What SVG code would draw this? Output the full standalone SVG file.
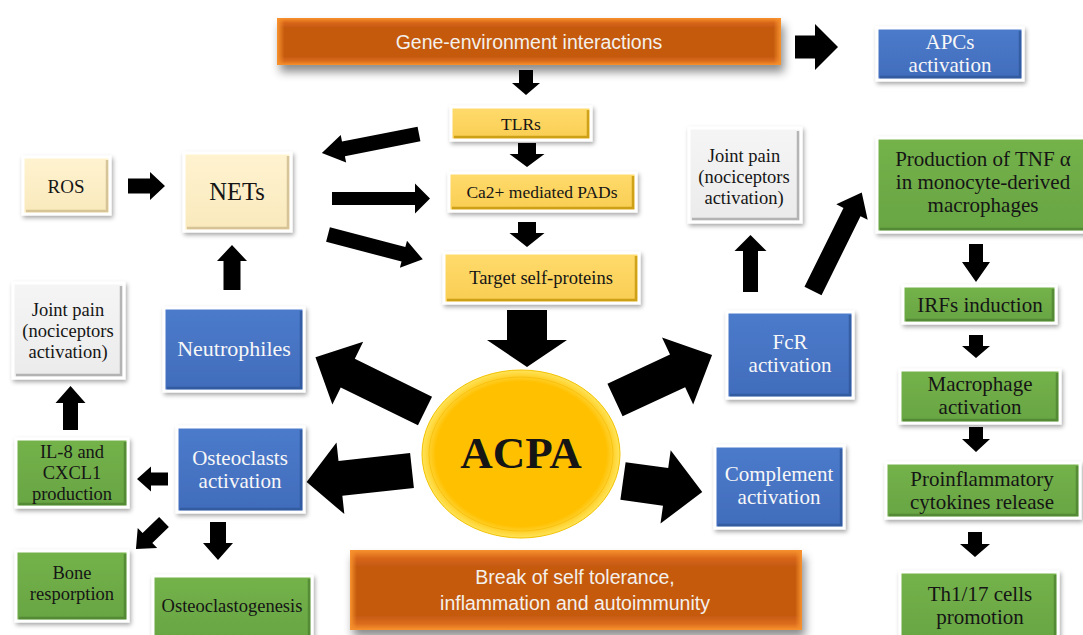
<svg xmlns="http://www.w3.org/2000/svg" width="1083" height="635" viewBox="0 0 1083 635">
<defs>
<filter id="sh" x="-20%" y="-20%" width="140%" height="150%"><feDropShadow dx="1.5" dy="2.5" stdDeviation="2.2" flood-color="#000" flood-opacity="0.35"/></filter>
<filter id="sho" x="-10%" y="-30%" width="120%" height="180%"><feDropShadow dx="3" dy="7" stdDeviation="5" flood-color="#000" flood-opacity="0.45"/></filter>
<linearGradient id="gB" x1="0" y1="0" x2="0" y2="1"><stop offset="0" stop-color="#4C7BCB"/><stop offset="1" stop-color="#416CBC"/></linearGradient>
<linearGradient id="gG" x1="0" y1="0" x2="0" y2="1"><stop offset="0" stop-color="#74B24A"/><stop offset="1" stop-color="#68A543"/></linearGradient>
<linearGradient id="gY" x1="0" y1="0" x2="0" y2="1"><stop offset="0" stop-color="#FFDB6C"/><stop offset="1" stop-color="#F9CD52"/></linearGradient>
<linearGradient id="gT" x1="0" y1="0" x2="0" y2="1"><stop offset="0" stop-color="#FFF3D0"/><stop offset="1" stop-color="#F9E9BC"/></linearGradient>
<linearGradient id="gW" x1="0" y1="0" x2="0" y2="1"><stop offset="0" stop-color="#F5F5F5"/><stop offset="1" stop-color="#EBEBEB"/></linearGradient>
<linearGradient id="gO" x1="0" y1="0" x2="0" y2="1"><stop offset="0" stop-color="#F7922E"/><stop offset="0.1" stop-color="#D9671A"/><stop offset="0.2" stop-color="#C55A11"/><stop offset="0.82" stop-color="#C55A11"/><stop offset="0.92" stop-color="#DB6C1D"/><stop offset="1" stop-color="#F7922E"/></linearGradient>
<linearGradient id="gOh" x1="0" y1="0" x2="1" y2="0"><stop offset="0" stop-color="#F7922E" stop-opacity="1"/><stop offset="0.015" stop-color="#F7922E" stop-opacity="0"/><stop offset="0.985" stop-color="#F7922E" stop-opacity="0"/><stop offset="1" stop-color="#F7922E" stop-opacity="1"/></linearGradient>
<radialGradient id="gA" cx="0.5" cy="0.5" r="0.5"><stop offset="0" stop-color="#FFC000"/><stop offset="0.86" stop-color="#FFC000"/><stop offset="0.93" stop-color="#FFD22E"/><stop offset="1" stop-color="#FFE45A"/></radialGradient>
<style>
.box{stroke:#fff;stroke-width:3;filter:url(#sh)}
.blue{fill:url(#gB)} .green{fill:url(#gG)} .yellow{fill:url(#gY)} .tan{fill:url(#gT)} .gray{fill:url(#gW)}
.bev{fill:none;stroke-width:2.5;stroke-opacity:0.75}
.bB{stroke:#2E5597} .bG{stroke:#4E8032} .bY{stroke:#BF9000} .bT{stroke:#C9B68A} .bW{stroke:#A0A0A0}
.t{font-family:"Liberation Serif","Times New Roman",serif;text-anchor:middle;font-size:21px;fill:#151515}
.w{fill:#F7F7F7}
.sm{font-size:18.5px}
.ys{font-size:17.5px}
.s{font-family:"Liberation Sans",Arial,sans-serif;text-anchor:middle;font-size:19.5px;fill:#F4F0EC}
.arr{fill:#000}
</style>
</defs>
<rect width="1083" height="635" fill="#fff"/>

<g id="connectors">
<polygon class="arr" transform="translate(795,47)" points="0,-11.5 20,-11.5 20,-23 43,0 20,23 20,11.5 0,11.5"/>
<polygon class="arr" transform="translate(526,70) rotate(90)" points="0,-7 13,-7 13,-14 25,0 13,14 13,7 0,7"/>
<polygon class="arr" transform="translate(527,143) rotate(90)" points="0,-9 11,-9 11,-17.5 24,0 11,17.5 11,9 0,9"/>
<polygon class="arr" transform="translate(527,222) rotate(90)" points="0,-9 11,-9 11,-17.5 25,0 11,17.5 11,9 0,9"/>
<polygon class="arr" transform="translate(527,310) rotate(90)" points="0,-20 30,-20 30,-40 57,0 30,40 30,20 0,20"/>
<polygon class="arr" transform="translate(419,134) rotate(168.9)" points="0,-7.5 77,-7.5 77,-14 99,0 77,14 77,7.5 0,7.5"/>
<polygon class="arr" transform="translate(332,198.5)" points="0,-6.5 83,-6.5 83,-15 98,0 83,15 83,6.5 0,6.5"/>
<polygon class="arr" transform="translate(328,234.5) rotate(14.7)" points="0,-7.5 78,-7.5 78,-14 98,0 78,14 78,7.5 0,7.5"/>
<polygon class="arr" transform="translate(128,186)" points="0,-7.5 22,-7.5 22,-14 37,0 22,14 22,7.5 0,7.5"/>
<polygon class="arr" transform="translate(232,290) rotate(-90)" points="0,-8.5 29,-8.5 29,-15 45,0 29,15 29,8.5 0,8.5"/>
<polygon class="arr" transform="translate(425,411) rotate(206.1)" points="0,-16 86,-16 86,-35 122,0 86,35 86,16 0,16"/>
<polygon class="arr" transform="translate(412,470.5) rotate(173.75)" points="0,-17.5 72,-17.5 72,-36 106,0 72,36 72,17.5 0,17.5"/>
<polygon class="arr" transform="translate(615,400) rotate(-24.9)" points="0,-18 69,-18 69,-37 107,0 69,37 69,18 0,18"/>
<polygon class="arr" transform="translate(623,481) rotate(7.9)" points="0,-19 43,-19 43,-37 80,0 43,37 43,19 0,19"/>
<polygon class="arr" transform="translate(750.5,292) rotate(-90)" points="0,-7.5 41,-7.5 41,-16 57,0 41,16 41,7.5 0,7.5"/>
<polygon class="arr" transform="translate(813,291) rotate(-63.7)" points="0,-9.5 88,-9.5 88,-17.5 110,0 88,17.5 88,9.5 0,9.5"/>
<polygon class="arr" transform="translate(976,244) rotate(90)" points="0,-7 18,-7 18,-14 38,0 18,14 18,7 0,7"/>
<polygon class="arr" transform="translate(976,335) rotate(90)" points="0,-7 11,-7 11,-14 23,0 11,14 11,7 0,7"/>
<polygon class="arr" transform="translate(976,427) rotate(90)" points="0,-7 12,-7 12,-14 25,0 12,14 12,7 0,7"/>
<polygon class="arr" transform="translate(975,532) rotate(90)" points="0,-7 12,-7 12,-15 25,0 12,15 12,7 0,7"/>
<polygon class="arr" transform="translate(70.5,430) rotate(-90)" points="0,-7.5 27,-7.5 27,-15 44,0 27,15 27,7.5 0,7.5"/>
<polygon class="arr" transform="translate(168,479) rotate(180)" points="0,-6.5 17,-6.5 17,-12.5 31,0 17,12.5 17,6.5 0,6.5"/>
<polygon class="arr" transform="translate(164,522) rotate(136)" points="0,-7 23,-7 23,-14 39,0 23,14 23,7 0,7"/>
<polygon class="arr" transform="translate(218,522) rotate(90)" points="0,-8 21,-8 21,-15 38,0 21,15 21,8 0,8"/>
</g>

<g id="n-gene">
<rect x="277" y="18" width="504" height="47" fill="url(#gO)" filter="url(#sho)"/>
<rect x="277" y="18" width="504" height="47" fill="url(#gOh)"/>
<text class="s" x="529" y="49">Gene-environment interactions</text>
</g>
<g id="n-apcs">
<rect class="box blue" x="877" y="28" width="146" height="52"/>
<path class="bev bB" d="M880,77 H1020 V31"/>
<text class="t w" x="950" y="49">APCs</text>
<text class="t w" x="950" y="72">activation</text>
</g>
<g id="n-tlrs">
<rect class="box yellow" x="451" y="107" width="140" height="33"/>
<path class="bev bY" d="M454,137 H588 V110"/>
<text class="t ys" x="521" y="130">TLRs</text>
</g>
<g id="n-pads">
<rect class="box yellow" x="449" y="173" width="187" height="38"/>
<path class="bev bY" d="M452,208 H633 V176"/>
<text class="t ys" x="542" y="198">Ca2+ mediated PADs</text>
</g>
<g id="n-target">
<rect class="box yellow" x="444" y="253" width="195" height="50"/>
<path class="bev bY" d="M447,300 H636 V256"/>
<text class="t ys" x="541" y="284" style="font-size:18.5px">Target self-proteins</text>
</g>
<g id="n-ros">
<rect class="box tan" x="23" y="157" width="87" height="57"/>
<path class="bev bT" d="M26,211 H107 V160"/>
<text class="t" x="66" y="193" style="font-size:19px">ROS</text>
</g>
<g id="n-nets">
<rect class="box tan" x="184" y="153" width="107" height="78"/>
<path class="bev bT" d="M187,228 H288 V156"/>
<text class="t" x="237" y="200" style="font-size:24.5px">NETs</text>
</g>
<g id="n-jp-left">
<rect class="box gray" x="13" y="283" width="111" height="95"/>
<path class="bev bW" d="M16,375 H121 V286"/>
<text class="t sm" x="68" y="316">Joint pain</text>
<text class="t sm" x="68" y="337">(nociceptors</text>
<text class="t sm" x="68" y="358">activation)</text>
</g>
<g id="n-neutro">
<rect class="box blue" x="164" y="308" width="140" height="83"/>
<path class="bev bB" d="M167,388 H301 V311"/>
<text class="t w" x="234" y="356" style="font-size:22px">Neutrophiles</text>
</g>
<g id="n-il8">
<rect class="box green" x="16" y="439" width="112" height="68"/>
<path class="bev bG" d="M19,504 H125 V442"/>
<text class="t sm" x="72" y="458">IL-8 and</text>
<text class="t sm" x="72" y="479">CXCL1</text>
<text class="t sm" x="72" y="500">production</text>
</g>
<g id="n-osteo">
<rect class="box blue" x="177" y="427" width="127" height="85"/>
<path class="bev bB" d="M180,509 H301 V430"/>
<text class="t w" x="240" y="465">Osteoclasts</text>
<text class="t w" x="240" y="488">activation</text>
</g>
<g id="n-bone">
<rect class="box green" x="16" y="551" width="112" height="70"/>
<path class="bev bG" d="M19,618 H125 V554"/>
<text class="t sm" x="72" y="579">Bone</text>
<text class="t sm" x="72" y="600">resporption</text>
</g>
<g id="n-ostgen">
<rect class="box green" x="153" y="576" width="159" height="64"/>
<path class="bev bG" d="M309,579 V640"/>
<text class="t sm" x="232" y="612">Osteoclastogenesis</text>
</g>
<g id="n-acpa">
<ellipse cx="521" cy="454" rx="99" ry="84" fill="url(#gA)" stroke="#F2C200" stroke-width="1"/>
<ellipse cx="521" cy="454" rx="92" ry="77" fill="none" stroke="#F5B800" stroke-width="1" stroke-opacity="0.6"/>
<text class="t" x="521" y="468" style="font-size:45px;font-weight:bold">ACPA</text>
</g>
<g id="n-break">
<rect x="350" y="550" width="452" height="80" fill="url(#gO)" filter="url(#sho)"/>
<rect x="350" y="550" width="452" height="80" fill="url(#gOh)"/>
<text class="s" x="575" y="584">Break of self tolerance,</text>
<text class="s" x="575" y="610">inflammation and autoimmunity</text>
</g>
<g id="n-jp-right">
<rect class="box gray" x="689" y="128" width="112" height="94"/>
<path class="bev bW" d="M692,219 H798 V131"/>
<text class="t sm" x="744" y="162">Joint pain</text>
<text class="t sm" x="744" y="183">(nociceptors</text>
<text class="t sm" x="744" y="204">activation)</text>
</g>
<g id="n-fcr">
<rect class="box blue" x="727" y="312" width="126" height="86"/>
<path class="bev bB" d="M730,395 H850 V315"/>
<text class="t w" x="790" y="349">FcR</text>
<text class="t w" x="790" y="372">activation</text>
</g>
<g id="n-tnf">
<rect class="box green" x="877" y="138" width="215" height="94"/>
<path class="bev bG" d="M880,229 H1090"/>
<text class="t" x="983" y="166">Production of TNF α</text>
<text class="t" x="983" y="189">in monocyte-derived</text>
<text class="t" x="983" y="212">macrophages</text>
</g>
<g id="n-irfs">
<rect class="box green" x="903" y="286" width="153" height="37"/>
<path class="bev bG" d="M906,320 H1053 V289"/>
<text class="t" x="980" y="312">IRFs induction</text>
</g>
<g id="n-macro">
<rect class="box green" x="900" y="370" width="160" height="53"/>
<path class="bev bG" d="M903,420 H1057 V373"/>
<text class="t" x="980" y="391">Macrophage</text>
<text class="t" x="980" y="414">activation</text>
</g>
<g id="n-proinf">
<rect class="box green" x="886" y="463" width="194" height="55"/>
<path class="bev bG" d="M889,515 H1077 V466"/>
<text class="t" x="982" y="486">Proinflammatory</text>
<text class="t" x="982" y="509">cytokines release</text>
</g>
<g id="n-th1">
<rect class="box green" x="900" y="572" width="158" height="70"/>
<path class="bev bG" d="M1055,575 V640"/>
<text class="t" x="980" y="601">Th1/17 cells</text>
<text class="t" x="980" y="624">promotion</text>
</g>
<g id="n-complement">
<rect class="box blue" x="715" y="446" width="129" height="82"/>
<path class="bev bB" d="M718,525 H841 V449"/>
<text class="t w" x="779" y="481">Complement</text>
<text class="t w" x="779" y="504">activation</text>
</g>
</svg>
